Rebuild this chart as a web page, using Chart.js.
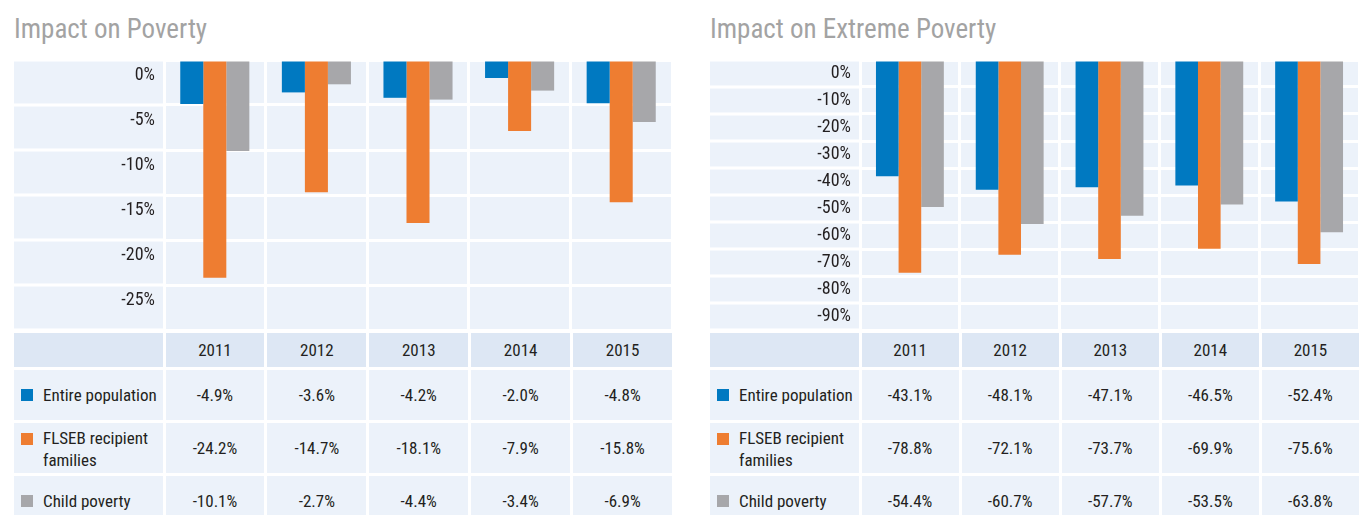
<!DOCTYPE html>
<html>
<head>
<meta charset="utf-8">
<script src="https://cdn.jsdelivr.net/npm/chart.js@4/dist/chart.umd.min.js"></script>
<style>
body{margin:0;width:1359px;height:515px;overflow:hidden;background:#fff;font-family:"Liberation Sans Narrow","Roboto Condensed","DejaVu Sans Condensed",sans-serif;color:#231f20}
.panel{position:absolute;top:0;height:515px}
.title{position:absolute;left:0;top:15px;font-size:27px;line-height:28px;color:#a3a3a3;white-space:nowrap}
.chartbox{position:absolute;left:0;top:60px;height:270px}
.tbl{position:absolute;left:0;right:0;top:333px;display:grid;column-gap:3px;row-gap:3px;grid-template-rows:34px 50px 50px 50px}
.tbl div{background:#ecf2fa;display:flex;align-items:center;justify-content:center;font-size:17px;white-space:nowrap}
.tbl .hd{background:#dde7f4}
.tbl .lab{justify-content:flex-start;padding-left:7px}
.tbl .lab.two{align-items:flex-start;padding-top:4px}
.sq{display:inline-block;width:12px;height:12px;margin-right:10px;flex:none}
.two .sq{margin-top:6px}
.lab span{line-height:22px}
</style>
</head>
<body>
<div class="panel" id="p1" style="left:14px;width:658px">
  <div class="title">Impact on Poverty</div>
  <div class="chartbox"><canvas id="c1" width="658" height="270"></canvas></div>
  <div class="tbl" id="t1"></div>
</div>
<div class="panel" id="p2" style="left:710px;width:649px">
  <div class="title">Impact on Extreme Poverty</div>
  <div class="chartbox"><canvas id="c2" width="649" height="270"></canvas></div>
  <div class="tbl" id="t2"></div>
</div>
<script>
var years = ['2011','2012','2013','2014','2015'];
var seriesNames = ['Entire population','FLSEB recipient families','Child poverty'];
var colors = ['#0079c1','#ee7d31','#a7a7aa'];

var povEntire = [-4.9,-3.6,-4.2,-2.0,-4.8];
var povFlseb = [-24.2,-14.7,-18.1,-7.9,-15.8];
var povChild = [-10.1,-2.7,-4.4,-3.4,-6.9];
var povTicks = ['0%','-5%','-10%','-15%','-20%','-25%'];

var extEntire = [-43.1,-48.1,-47.1,-46.5,-52.4];
var extFlseb = [-78.8,-72.1,-73.7,-69.9,-75.6];
var extChild = [-54.4,-60.7,-57.7,-53.5,-63.8];
var extTicks = ['0%','-10%','-20%','-30%','-40%','-50%','-60%','-70%','-80%','-90%'];

var fontFam = '"Liberation Sans Narrow","Roboto Condensed","DejaVu Sans Condensed",sans-serif';

// light blue cells + white lines in the label column
var cellBg = {
  id: 'cellBg',
  beforeDraw: function(chart){
    var ctx = chart.ctx, a = chart.chartArea, y = chart.scales.y;
    ctx.save();
    ctx.fillStyle = '#ecf2fa';
    ctx.fillRect(0, a.top, a.right, a.bottom - a.top);
    ctx.strokeStyle = '#fff';
    ctx.lineWidth = 3;
    y.ticks.forEach(function(t){
      var py = y.getPixelForValue(t.value);
      ctx.beginPath();
      ctx.moveTo(0, py);
      ctx.lineTo(a.left, py);
      ctx.stroke();
    });
    ctx.restore();
  }
};

function makeChart(id, data, min, step, tickLabels, labOff){
  var sets = [];
  for(var i=0;i<data.length;i++){
    sets.push({
      label: seriesNames[i],
      data: data[i],
      backgroundColor: colors[i],
      borderWidth: 0,
      categoryPercentage: 0.68,
      barPercentage: 1.0
    });
  }
  return new Chart(document.getElementById(id), {
    type: 'bar',
    data: { labels: years, datasets: sets },
    plugins: [cellBg],
    options: {
      responsive: false,
      animation: false,
      devicePixelRatio: 1,
      layout: { padding: 0 },
      plugins: { legend: { display: false }, tooltip: { enabled: false } },
      scales: {
        x: {
          grid: { color: '#fff', lineWidth: 3, drawTicks: false, offset: true },
          border: { display: false },
          ticks: { display: false },
          afterFit: function(s){ s.height = 0; s.paddingLeft = 0; s.paddingRight = 0; }
        },
        y: {
          min: min,
          max: 0,
          grid: { color: '#fff', lineWidth: 3, drawTicks: false },
          border: { display: true, color: '#fff', width: 3 },
          ticks: {
            stepSize: step,
            autoSkip: false,
            padding: 9,
            labelOffset: labOff,
            color: '#231f20',
            font: { family: fontFam, size: 18 },
            callback: function(v){
              var k = Math.round(-v / step);
              return tickLabels[k] || '';
            }
          },
          afterFit: function(s){ s.width = 150; s.paddingTop = 0; s.paddingBottom = 0; }
        }
      }
    }
  });
}

function makeTable(id, data){
  var t = document.getElementById(id);
  t.style.gridTemplateColumns = '148.5px repeat(' + years.length + ', 1fr)';
  var h = '<div class="hd"></div>';
  for(var j=0;j<years.length;j++) h += '<div class="hd">' + years[j] + '</div>';
  for(var i=0;i<data.length;i++){
    var name = seriesNames[i];
    var cls = 'lab';
    if(name == 'FLSEB recipient families'){
      name = 'FLSEB recipient<br>families';
      cls = 'lab two';
    }
    h += '<div class="' + cls + '"><i class="sq" style="background:' + colors[i] + '"></i><span>' + name + '</span></div>';
    for(var j=0;j<years.length;j++){
      h += '<div>' + data[i][j].toFixed(1) + '%</div>';
    }
  }
  t.innerHTML = h;
}

makeChart('c1', [povEntire, povFlseb, povChild], -30, 5, povTicks, 15);
makeChart('c2', [extEntire, extFlseb, extChild], -100, 10, extTicks, 13);
makeTable('t1', [povEntire, povFlseb, povChild]);
makeTable('t2', [extEntire, extFlseb, extChild]);
</script>
</body>
</html>
